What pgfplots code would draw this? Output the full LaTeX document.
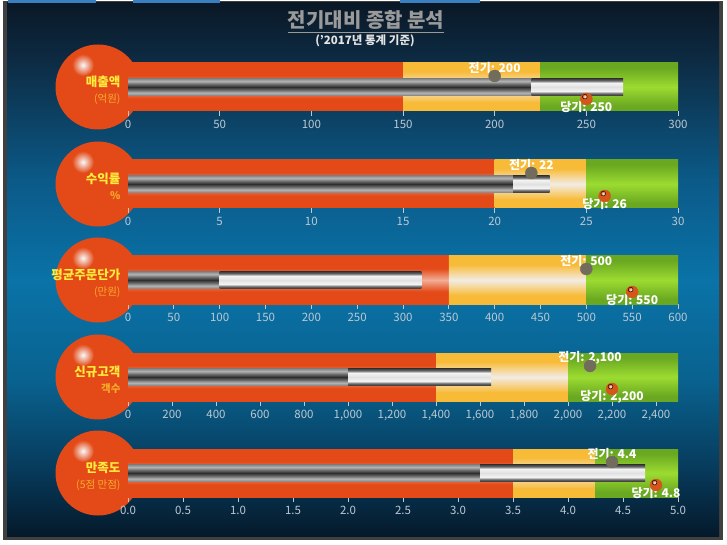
\documentclass[border=0pt]{standalone}
\usepackage{pgfplots}
\pgfplotsset{compat=1.18}
\usepackage{fontspec}
\setmainfont{Noto Sans CJK KR}
\usetikzlibrary{shadings}
\definecolor{redC}{HTML}{E34A18}
\definecolor{redL}{HTML}{F2AE98}
\definecolor{yelC}{HTML}{F8BB38}
\definecolor{yelL}{HTML}{F2ECE4}
\definecolor{grnC}{HTML}{6AA822}
\definecolor{grnL}{HTML}{9CDC30}
\definecolor{tickC}{HTML}{BCC8D2}
\definecolor{labY}{HTML}{FFEC3C}
\definecolor{labO}{HTML}{F8AC2C}
\definecolor{gdot}{HTML}{726C5C}
\definecolor{odot}{HTML}{D5561A}
\definecolor{titleC}{HTML}{9A9A9A}
\definecolor{subC}{HTML}{E4E4E4}
\definecolor{tabC}{HTML}{3A7FC0}
\definecolor{bg0}{HTML}{0A1826}
\definecolor{bg1}{HTML}{0D2B43}
\definecolor{bg2}{HTML}{0B5A88}
\definecolor{bg3}{HTML}{0A73A8}
\definecolor{bg4}{HTML}{09628F}
\definecolor{bg5}{HTML}{073A5B}
\definecolor{bg6}{HTML}{05192A}
\definecolor{g1}{HTML}{8C8C8C}
\definecolor{g2}{HTML}{B4B4B4}
\definecolor{g3}{HTML}{6A6A6A}
\definecolor{g4}{HTML}{2E2E2E}
\definecolor{w1}{HTML}{444444}
\definecolor{w2}{HTML}{6A6A6A}
\definecolor{w3}{HTML}{F4F4F4}
\definecolor{w4}{HTML}{E0E0E0}

\pgfdeclareverticalshading{redband}{100bp}{color(0bp)=(redC); color(25bp)=(redC); color(38bp)=(redC); color(50bp)=(redL); color(62bp)=(redC); color(75bp)=(redC); color(100bp)=(redC)}
\pgfdeclareverticalshading{yelband}{100bp}{color(0bp)=(yelC); color(25bp)=(yelC); color(34bp)=(yelC); color(50bp)=(yelL); color(66bp)=(yelC); color(75bp)=(yelC); color(100bp)=(yelC)}
\pgfdeclareverticalshading{grnband}{100bp}{color(0bp)=(grnC); color(25bp)=(grnC); color(30bp)=(grnC); color(50bp)=(grnL); color(70bp)=(grnC); color(75bp)=(grnC); color(100bp)=(grnC)}
\pgfdeclareverticalshading{graybar}{100bp}{color(0bp)=(g1); color(25bp)=(g1); color(32bp)=(g2); color(41bp)=(g3); color(50bp)=(g4); color(59bp)=(g3); color(68bp)=(g2); color(75bp)=(g1); color(100bp)=(g1)}
\pgfdeclareverticalshading{whitebar}{100bp}{color(0bp)=(w1); color(25bp)=(w1); color(30bp)=(w2); color(37bp)=(w3); color(50bp)=(w4); color(63bp)=(w3); color(70bp)=(w2); color(75bp)=(w1); color(100bp)=(w1)}

\pgfdeclareplotmark{oball}{%
  \fill[odot] (0,0) circle (\pgfplotmarksize);
  \shade[inner color=white, outer color=odot] (-0.25*\pgfplotmarksize,0.4*\pgfplotmarksize) circle (0.4*\pgfplotmarksize);}
\pgfdeclareplotmark{gball}{\fill[gdot] (0,0) circle (\pgfplotmarksize);}

\tikzset{
  vlab/.style={text=white, font=\bfseries\fontsize{12}{14}\selectfont},
  band/.style={draw=none, shading=#1},
}
\pgfplotsset{
  bul/.style={scale only axis, width=550pt, height=48pt, ymin=0, ymax=1,
    anchor=south west, clip=false,
    axis x line*=bottom, axis y line=none, x axis line style={draw=none},
    tick align=outside, major tick length=5pt,
    xtick style={draw=tickC, line width=0.8pt},
    xticklabel style={text=tickC, font=\fontsize{11.5}{13}\selectfont, yshift=-1pt},
    /pgf/number format/assume math mode=true, /pgf/number format/1000 sep={,},
    enlargelimits=false},
}

\begin{document}
\begin{tikzpicture}[x=1pt,y=1pt]
% background and frame
\fill[white] (0,0) rectangle (727,544);
\fill[black!75] (3,4) rectangle (723,543);
\shade[top color=bg0, bottom color=bg1] (7,483.5) rectangle (719,541);
\shade[top color=bg1, bottom color=bg2] (7,363.5) rectangle (719,484);
\shade[top color=bg2, bottom color=bg3] (7,263.5) rectangle (719,364);
\shade[top color=bg3, bottom color=bg4] (7,163.5) rectangle (719,264);
\shade[top color=bg4, bottom color=bg5] (7,73.5) rectangle (719,164);
\shade[top color=bg5, bottom color=bg6] (7,8) rectangle (719,74);
\fill[tabC] (8,541) rectangle (96,543.5);
\fill[tabC] (133,541) rectangle (220,543.5);
\fill[tabC] (400,541) rectangle (480,543.5);

% title
\node[inner sep=0, text=titleC, font=\bfseries\fontsize{20}{23}\selectfont] (t) at (366,524) {전기대비 종합 분석};
\draw[titleC, line width=1pt] ([yshift=-12.5pt]t.west) -- ([yshift=-12.5pt]t.east);
\node[text=subC, font=\bfseries\fontsize{11.5}{13}\selectfont] at (365,503) {('2017년 통계 기준)};

% circles
\foreach \cy in {457,360,264,167,71}{
  \fill[redC] (98,\cy) circle (42.5);
  \shade[inner color=white!95!gray, outer color=redC] (83,\cy+22) circle (11);
}

% panel 1
\begin{axis}[bul, at={(128pt,433pt)}, xmin=0, xmax=300, xtick={0,50,...,300}]
\addplot[band=redband] coordinates {(0,0)(0,1)(150,1)(150,0)} -- cycle;
\addplot[band=yelband] coordinates {(150,0)(150,1)(225,1)(225,0)} -- cycle;
\addplot[band=grnband] coordinates {(225,0)(225,1)(300,1)(300,0)} -- cycle;
\addplot[band=graybar] coordinates {(0,0.333)(0,0.667)(220,0.667)(220,0.333)} -- cycle;
\addplot[band=whitebar] coordinates {(220,0.333)(220,0.667)(270,0.667)(270,0.333)} -- cycle;
\addplot[only marks, mark=gball, mark size=6pt] coordinates {(200,0.73)};
\addplot[only marks, mark=oball, mark size=6pt] coordinates {(250,0.25)};
\node[vlab] at (axis cs:200,0.9) {전기: 200};
\node[vlab] at (axis cs:250,0.09) {당기: 250};
\end{axis}
\node[anchor=east, text=labY, font=\bfseries\fontsize{12.5}{14}\selectfont] at (124,462) {매출액};
\node[anchor=east, text=labO, font=\fontsize{10.5}{12}\selectfont] at (124,445) {(억원)};

% panel 2
\begin{axis}[bul, at={(128pt,336pt)}, xmin=0, xmax=30, xtick={0,5,...,30}]
\addplot[band=redband] coordinates {(0,0)(0,1)(20,1)(20,0)} -- cycle;
\addplot[band=yelband] coordinates {(20,0)(20,1)(25,1)(25,0)} -- cycle;
\addplot[band=grnband] coordinates {(25,0)(25,1)(30,1)(30,0)} -- cycle;
\addplot[band=graybar] coordinates {(0,0.333)(0,0.667)(21,0.667)(21,0.333)} -- cycle;
\addplot[band=whitebar] coordinates {(21,0.333)(21,0.667)(23,0.667)(23,0.333)} -- cycle;
\addplot[only marks, mark=gball, mark size=6pt] coordinates {(22,0.73)};
\addplot[only marks, mark=oball, mark size=6pt] coordinates {(26,0.25)};
\node[vlab] at (axis cs:22,0.9) {전기: 22};
\node[vlab] at (axis cs:26,0.09) {당기: 26};
\end{axis}
\node[anchor=east, text=labY, font=\bfseries\fontsize{12.5}{14}\selectfont] at (124,365) {수익률};
\node[anchor=east, text=labO, font=\bfseries\fontsize{10.5}{12}\selectfont] at (124,348) {\%};

% panel 3
\begin{axis}[bul, at={(128pt,240pt)}, xmin=0, xmax=600, xtick={0,50,...,600}]
\addplot[band=redband] coordinates {(0,0)(0,1)(350,1)(350,0)} -- cycle;
\addplot[band=yelband] coordinates {(350,0)(350,1)(500,1)(500,0)} -- cycle;
\addplot[band=grnband] coordinates {(500,0)(500,1)(600,1)(600,0)} -- cycle;
\addplot[band=graybar] coordinates {(0,0.333)(0,0.667)(100,0.667)(100,0.333)} -- cycle;
\addplot[band=whitebar] coordinates {(100,0.333)(100,0.667)(320,0.667)(320,0.333)} -- cycle;
\addplot[only marks, mark=gball, mark size=6pt] coordinates {(500,0.73)};
\addplot[only marks, mark=oball, mark size=6pt] coordinates {(550,0.25)};
\node[vlab] at (axis cs:500,0.9) {전기: 500};
\node[vlab] at (axis cs:550,0.09) {당기: 550};
\end{axis}
\node[anchor=east, text=labY, font=\bfseries\fontsize{12.5}{14}\selectfont] at (124,269) {평균주문단가};
\node[anchor=east, text=labO, font=\fontsize{10.5}{12}\selectfont] at (124,252) {(만원)};

% panel 4
\begin{axis}[bul, at={(128pt,143pt)}, xmin=0, xmax=2500, xtick={0,200,...,2400}]
\addplot[band=redband] coordinates {(0,0)(0,1)(1400,1)(1400,0)} -- cycle;
\addplot[band=yelband] coordinates {(1400,0)(1400,1)(2000,1)(2000,0)} -- cycle;
\addplot[band=grnband] coordinates {(2000,0)(2000,1)(2500,1)(2500,0)} -- cycle;
\addplot[band=graybar] coordinates {(0,0.333)(0,0.667)(1000,0.667)(1000,0.333)} -- cycle;
\addplot[band=whitebar] coordinates {(1000,0.333)(1000,0.667)(1650,0.667)(1650,0.333)} -- cycle;
\addplot[only marks, mark=gball, mark size=6pt] coordinates {(2100,0.73)};
\addplot[only marks, mark=oball, mark size=6pt] coordinates {(2200,0.25)};
\node[vlab] at (axis cs:2100,0.9) {전기: 2,100};
\node[vlab] at (axis cs:2200,0.09) {당기: 2,200};
\end{axis}
\node[anchor=east, text=labY, font=\bfseries\fontsize{12.5}{14}\selectfont] at (124,172) {신규고객};
\node[anchor=east, text=labO, font=\bfseries\fontsize{10.5}{12}\selectfont] at (124,155) {객수};

% panel 5
\begin{axis}[bul, at={(128pt,47pt)}, xmin=0, xmax=5, xtick={0,0.5,1,1.5,2,2.5,3,3.5,4,4.5,5},
  xticklabel style={/pgf/number format/fixed, /pgf/number format/fixed zerofill, /pgf/number format/precision=1}]
\addplot[band=redband] coordinates {(0,0)(0,1)(3.5,1)(3.5,0)} -- cycle;
\addplot[band=yelband] coordinates {(3.5,0)(3.5,1)(4.25,1)(4.25,0)} -- cycle;
\addplot[band=grnband] coordinates {(4.25,0)(4.25,1)(5,1)(5,0)} -- cycle;
\addplot[band=graybar] coordinates {(0,0.333)(0,0.667)(3.2,0.667)(3.2,0.333)} -- cycle;
\addplot[band=whitebar] coordinates {(3.2,0.333)(3.2,0.667)(4.7,0.667)(4.7,0.333)} -- cycle;
\addplot[only marks, mark=gball, mark size=6pt] coordinates {(4.4,0.73)};
\addplot[only marks, mark=oball, mark size=6pt] coordinates {(4.8,0.25)};
\node[vlab] at (axis cs:4.4,0.9) {전기: 4.4};
\node[vlab] at (axis cs:4.8,0.09) {당기: 4.8};
\end{axis}
\node[anchor=east, text=labY, font=\bfseries\fontsize{12.5}{14}\selectfont] at (124,76) {만족도};
\node[anchor=east, text=labO, font=\fontsize{10.5}{12}\selectfont] at (124,59) {(5점 만점)};

\pgfresetboundingbox
\useasboundingbox (0,0) rectangle (727,544);
\end{tikzpicture}
\end{document}
